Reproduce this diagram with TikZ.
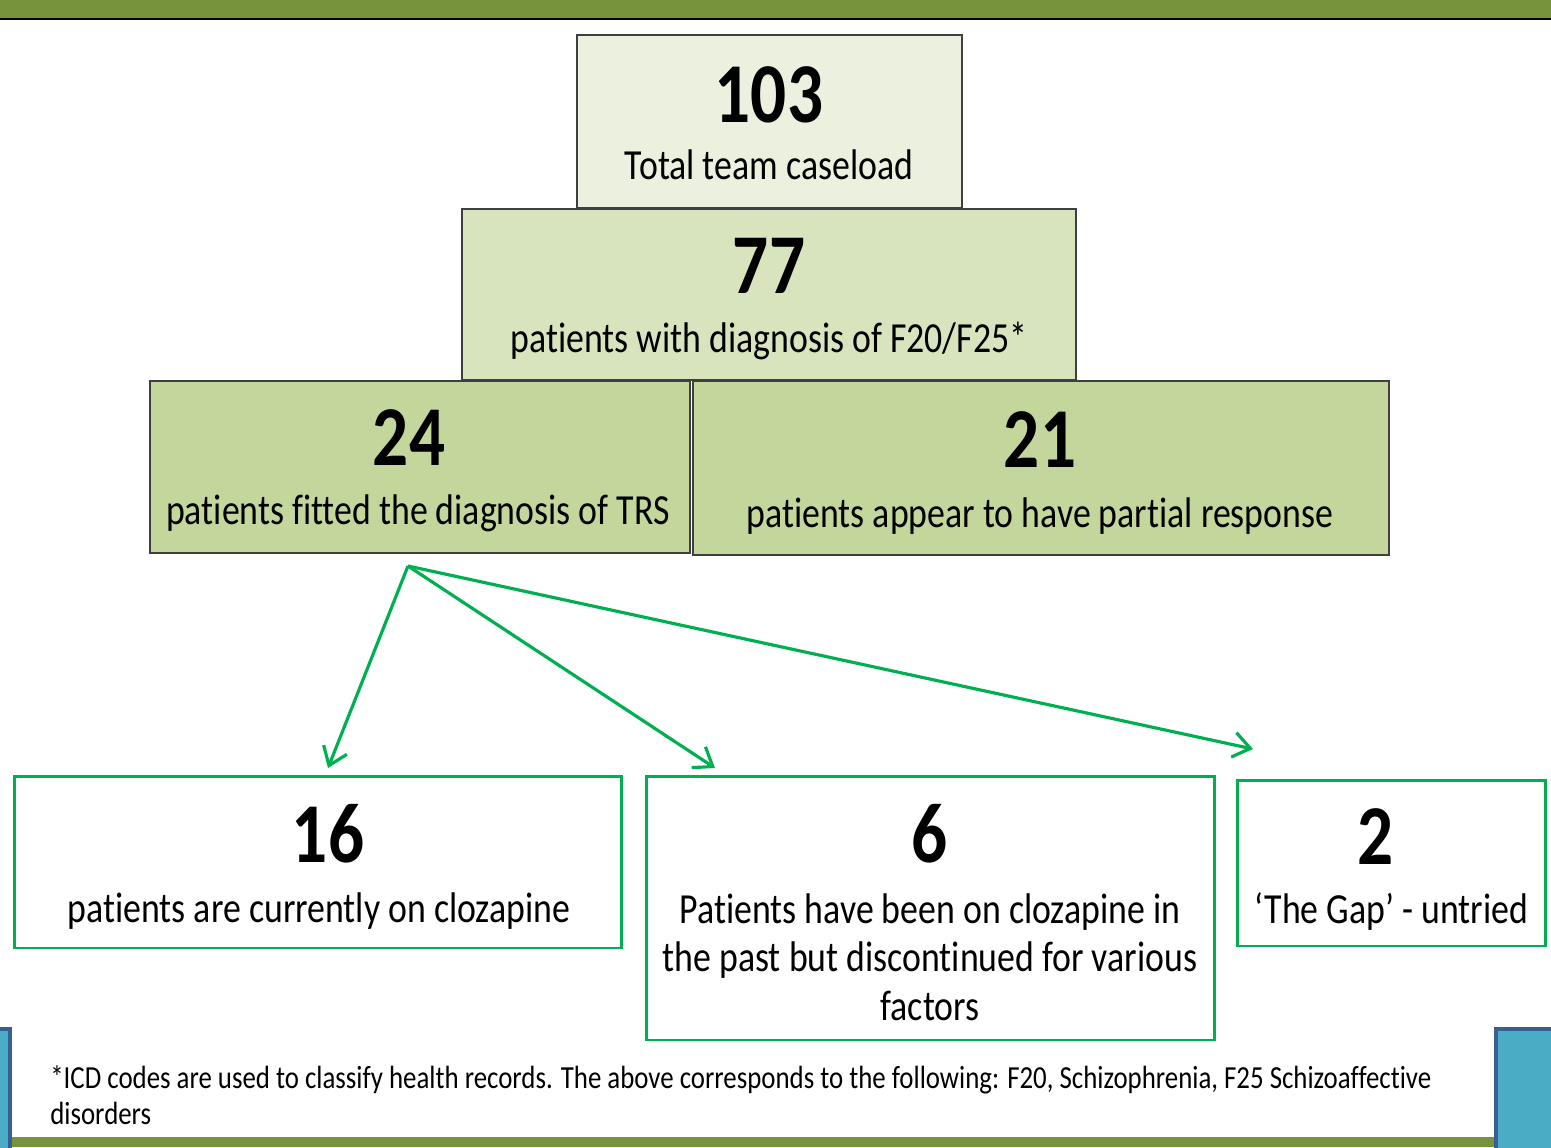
\documentclass[tikz,border=0pt]{standalone}
\usepackage{fontspec}
\setmainfont{Carlito}[FakeStretch=0.835, Ligatures=NoCommon]
\usepackage{tikz}
\usetikzlibrary{calc, positioning, arrows.meta}

\definecolor{slidegreen}{HTML}{77933C}
\definecolor{tileblue}{HTML}{4BACC6}
\definecolor{tileedge}{HTML}{375F92}
\definecolor{paleone}{HTML}{EBF1DE}
\definecolor{paletwo}{HTML}{D7E4BD}
\definecolor{palethree}{HTML}{C3D69B}
\definecolor{boxline}{HTML}{3F3F3F}
\definecolor{flowgreen}{HTML}{00B050}

\begin{document}
\begin{tikzpicture}[x=0.02cm, y=-0.02cm,
    level/.style={draw=boxline, line width=1.1pt, inner sep=0pt},
    outcome/.style={draw=flowgreen, line width=1.7pt, inner sep=0pt},
    num/.style={font=\fontsize{48.5}{50}\selectfont\bfseries, anchor=base, inner sep=0pt},
    lbl/.style={font=\fontsize{24.4}{27.8}\selectfont, anchor=base, inner sep=0pt},
    flow/.style={flowgreen, line width=1.8pt, -{Straight Barb[length=0.34cm, width=0.5cm]}}]
\useasboundingbox (0,0) rectangle (1551,1147);

% Slide frame
\fill[slidegreen] (0,0) rectangle (1551,18);
\draw[black, line width=1.2pt] (0,19) -- (1551,19);
\fill[slidegreen] (12,1137) rectangle (1497,1147);
\filldraw[fill=tileblue, draw=tileedge, line width=2.2pt] (-10,1029) rectangle (10,1160);
\filldraw[fill=tileblue, draw=tileedge, line width=2.2pt] (1496,1029) rectangle (1560,1160);

% Funnel boxes
\node[level, fill=paleone, minimum width=7.70cm, minimum height=3.46cm] (b103) at (769.5,121.5) {};
\node[level, fill=paletwo, minimum width=12.28cm, minimum height=3.42cm] (b77) at (769,294.5) {};
\node[level, fill=palethree, minimum width=10.80cm, minimum height=3.44cm] (b24) at (420,467) {};
\node[level, fill=palethree, minimum width=13.92cm, minimum height=3.48cm] (b21) at (1041,468) {};

\node[num] (n103) at (769,122) {103};
\node[lbl] (t103) at (769,179) {Total team caseload};
\node[num] (n77) at (769,293) {77};
\node[lbl] (t77) at (769,352) {patients with diagnosis of F20/F25*};
\node[num] (n24) at (409,465) {24};
\node[lbl] (t24) at (418,524) {patients fitted the diagnosis of TRS};
\node[num] (n21) at (1040,467) {21};
\node[lbl] (t21) at (1040,527) {patients appear to have partial response};

% Outcome boxes
\node[outcome, minimum width=12.16cm, minimum height=3.44cm] (b16) at (318,862) {};
\node[outcome, minimum width=11.38cm, minimum height=5.28cm] (b6) at (930.5,908) {};
\node[outcome, minimum width=6.18cm, minimum height=3.32cm] (b2) at (1391.5,863) {};

\node[num] (n16) at (328,862) {16};
\node[lbl] (t16) at (319,922) {patients are currently on clozapine};
\node[num] (n6) at (930,862) {6};
\node[lbl, anchor=north, align=center] (t6) at (930,893) {Patients have been on clozapine in\\the past but discontinued for various\\factors};
\node[num] (n2) at (1376,864) {2};
\node[lbl] (t2) at (1391,923) {‘The Gap’ - untried};

% Arrows from TRS
\coordinate (split) at (408,566);
\coordinate (to16) at (328,768);
\coordinate (to6) at (715,768);
\coordinate (to2) at (1253,749);
\draw[flow] (split) -- (to16);
\draw[flow] (split) -- (to6);
\draw[flow] (split) -- (to2);

% Footnote
\node[anchor=north west, align=left, inner sep=0pt, font=\fontsize{18.3}{20.4}\selectfont] (note) at (50,1065)
  {*ICD codes are used to classify health records. The above corresponds to the following: F20, Schizophrenia, F25 Schizoaffective\\disorders};
\end{tikzpicture}
\end{document}
